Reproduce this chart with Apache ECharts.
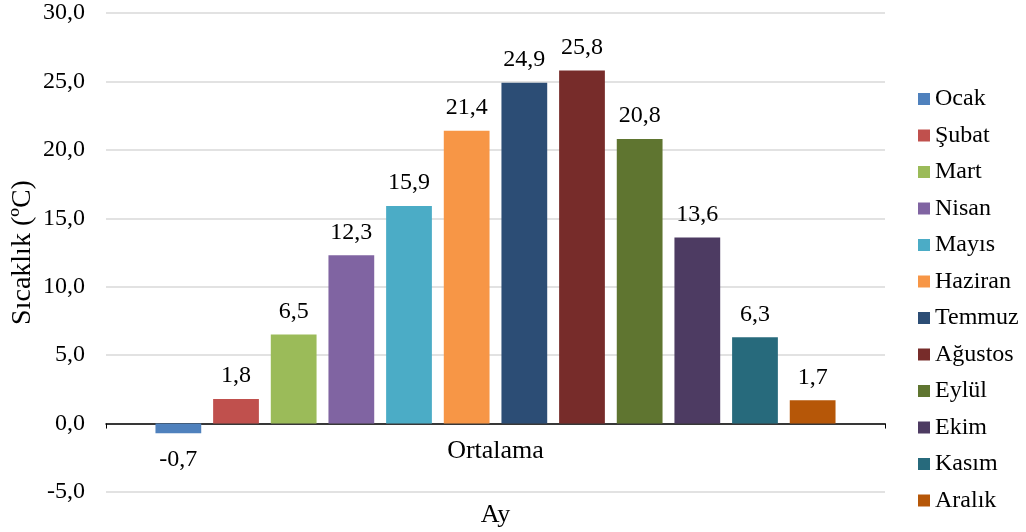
<!DOCTYPE html>
<html><head><meta charset="utf-8">
<script src="https://cdn.jsdelivr.net/npm/echarts@6/dist/echarts.min.js"></script>
<style>html,body{margin:0;padding:0;background:#fff}#c{width:1026px;height:532px}</style>
</head><body><div id="c"></div>
<script>
const categories = ['Ortalama'];
const months = ['Ocak','Şubat','Mart','Nisan','Mayıs','Haziran','Temmuz','Ağustos','Eylül','Ekim','Kasım','Aralık'];
const values = [-0.7, 1.8, 6.5, 12.3, 15.9, 21.4, 24.9, 25.8, 20.8, 13.6, 6.3, 1.7];
const colors = ['#4F81BD','#C0504D','#9BBB59','#8064A2','#4BACC6','#F79646','#2C4D75','#772C2A','#5F7530','#4D3B62','#276A7C','#B65708'];
const yTicks = {min: -5, max: 30, interval: 5};
const font = '"Liberation Serif", "Times New Roman", serif';
const fmt = v => v.toFixed(1).replace('.', ',');

const series = months.map((m, i) => ({
  name: m,
  type: 'bar',
  barGap: '26%',
  barCategoryGap: '12.7%',
  itemStyle: {color: colors[i]},
  data: [{
    value: values[i],
    label: {
      show: true,
      position: values[i] < 0 ? 'bottom' : 'top',
      distance: values[i] < 0 ? 15 : 11,
      formatter: p => fmt(p.value),
      fontFamily: font, fontSize: 24, color: '#000'
    }
  }]
}));

const chart = echarts.init(document.getElementById('c'), null, {renderer: 'canvas'});
chart.setOption({
  animation: false,
  color: colors,
  grid: {left: 106, right: 141, top: 13, bottom: 40, containLabel: false, outerBoundsMode: 'none'},
  legend: {
    orient: 'vertical', left: 913, top: 82,
    itemWidth: 12, itemHeight: 12, itemGap: 12.5,
    icon: 'rect',
    textStyle: {fontFamily: font, fontSize: 24, color: '#000'},
    data: months
  },
  xAxis: {
    type: 'category', data: categories,
    name: 'Ay', nameLocation: 'middle', nameGap: 10, nameMoveOverlap: false,
    nameTextStyle: {fontFamily: font, fontSize: 26, color: '#000'},
    axisLine: {onZero: true, lineStyle: {color: '#000', width: 1.5}},
    axisTick: {show: true, length: 5, lineStyle: {color: '#000'}},
    axisLabel: {fontFamily: font, fontSize: 26, color: '#000', margin: -54}
  },
  yAxis: {
    type: 'value', min: yTicks.min, max: yTicks.max, interval: yTicks.interval,
    name: 'Sıcaklık (ºC)', nameLocation: 'middle', nameGap: 69, nameMoveOverlap: false,
    nameTextStyle: {fontFamily: font, fontSize: 28, color: '#000'},
    axisLine: {show: false}, axisTick: {show: false},
    splitLine: {lineStyle: {color: '#d9d9d9', width: 1.5}},
    axisLabel: {fontFamily: font, fontSize: 24, color: '#000', margin: 21, formatter: v => fmt(v)}
  },
  series: series
});
</script></body></html>
